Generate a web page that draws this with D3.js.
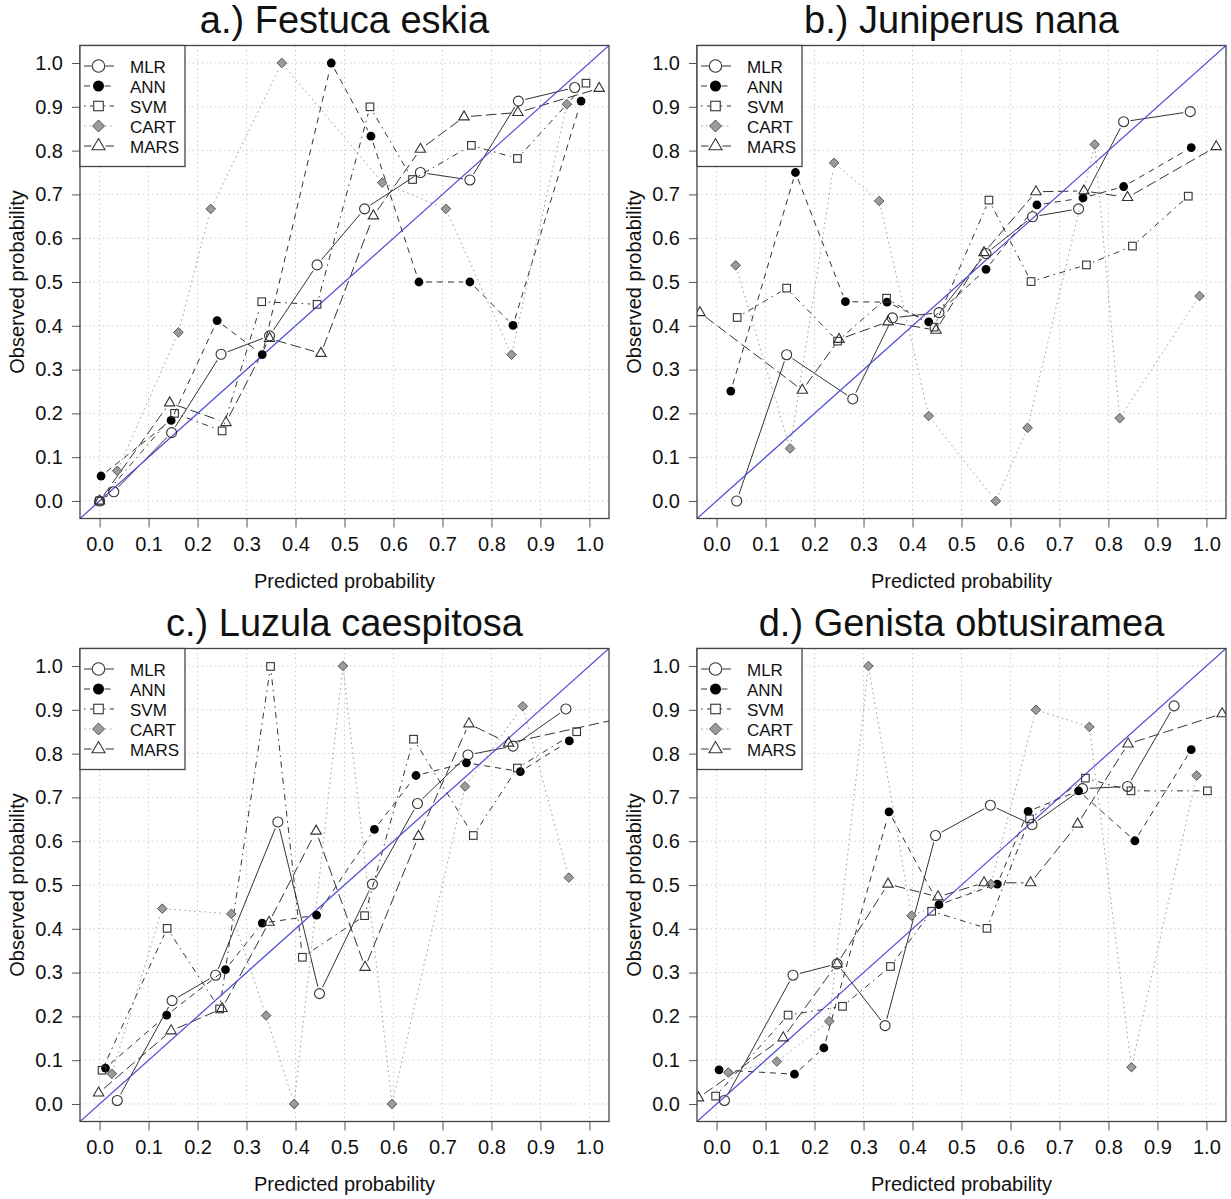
<!DOCTYPE html>
<html>
<head>
<meta charset="utf-8">
<script src="https://cdn.jsdelivr.net/npm/d3@7"></script>
<style>
  body { margin: 0; background: #fff; }
  text { font-family: "Liberation Sans", Arial, sans-serif; fill: #111; }
</style>
</head>
<body>
<svg id="chart" width="1231" height="1199"></svg>
<script>
// ---- data: [predicted, observed] per model, per species ----
const titles = ["a.) Festuca eskia", "b.) Juniperus nana", "c.) Luzula caespitosa", "d.) Genista obtusiramea"];
const models = ["MLR", "ANN", "SVM", "CART", "MARS"];
const tickValues = [0, 0.1, 0.2, 0.3, 0.4, 0.5, 0.6, 0.7, 0.8, 0.9, 1.0];

// a.) Festuca eskia
const festucaMLR  = [[0,0],[0.029,0.021],[0.147,0.156],[0.248,0.335],[0.347,0.377],[0.444,0.539],[0.541,0.667],[0.655,0.75],[0.756,0.733],[0.855,0.913],[0.97,0.944]];
const festucaANN  = [[0.003,0.057],[0.146,0.184],[0.24,0.412],[0.332,0.334],[0.473,1.0],[0.554,0.833],[0.652,0.5],[0.756,0.5],[0.844,0.401],[0.983,0.913]];
const festucaSVM  = [[0,0],[0.153,0.2],[0.25,0.16],[0.331,0.455],[0.444,0.449],[0.552,0.9],[0.639,0.734],[0.759,0.812],[0.853,0.782],[0.993,0.954]];
const festucaCART = [[0.036,0.069],[0.161,0.385],[0.227,0.667],[0.372,1.0],[0.577,0.727],[0.707,0.667],[0.841,0.334],[0.954,0.906]];
const festucaMARS = [[0,0],[0.143,0.224],[0.258,0.179],[0.347,0.371],[0.452,0.337],[0.559,0.651],[0.655,0.803],[0.744,0.877],[0.854,0.887],[1.02,0.942]];

// b.) Juniperus nana
const juniperusMLR  = [[0.041,0.0],[0.143,0.334],[0.278,0.233],[0.359,0.418],[0.454,0.43],[0.55,0.565],[0.645,0.649],[0.739,0.667],[0.831,0.866],[0.967,0.889]];
const juniperusANN  = [[0.029,0.251],[0.161,0.75],[0.263,0.455],[0.348,0.454],[0.433,0.409],[0.55,0.529],[0.654,0.676],[0.748,0.692],[0.831,0.718],[0.969,0.807]];
const juniperusSVM  = [[0.042,0.419],[0.143,0.486],[0.247,0.365],[0.347,0.463],[0.444,0.397],[0.556,0.687],[0.642,0.501],[0.755,0.539],[0.849,0.582],[0.963,0.696]];
const juniperusCART = [[0.039,0.538],[0.15,0.12],[0.24,0.772],[0.332,0.685],[0.433,0.194],[0.57,0.0],[0.635,0.167],[0.772,0.814],[0.823,0.189],[0.986,0.468]];
const juniperusMARS = [[-0.034,0.43],[0.175,0.253],[0.25,0.369],[0.35,0.409],[0.448,0.39],[0.546,0.567],[0.652,0.706],[0.75,0.708],[0.839,0.693],[1.02,0.809]];

// c.) Luzula caespitosa
const luzulaMLR  = [[0.036,0.008],[0.148,0.236],[0.237,0.294],[0.364,0.644],[0.449,0.252],[0.557,0.502],[0.649,0.686],[0.752,0.797],[0.844,0.817],[0.952,0.902]];
const luzulaANN  = [[0.012,0.082],[0.137,0.203],[0.257,0.307],[0.332,0.413],[0.443,0.431],[0.561,0.627],[0.646,0.75],[0.749,0.779],[0.859,0.759],[0.959,0.829]];
const luzulaSVM  = [[0.005,0.077],[0.138,0.401],[0.245,0.217],[0.349,0.999],[0.414,0.335],[0.541,0.43],[0.641,0.833],[0.763,0.613],[0.853,0.767],[0.974,0.85]];
const luzulaCART = [[0.025,0.069],[0.128,0.446],[0.269,0.434],[0.34,0.202],[0.397,0.0],[0.497,1.0],[0.597,0.0],[0.746,0.725],[0.864,0.908],[0.958,0.517]];
const luzulaMARS = [[-0.002,0.025],[0.146,0.167],[0.25,0.218],[0.346,0.415],[0.442,0.623],[0.542,0.312],[0.651,0.611],[0.754,0.868],[0.835,0.824],[1.07,0.882]];

// d.) Genista obtusiramea
const genistaMLR  = [[0.016,0.008],[0.156,0.294],[0.246,0.32],[0.344,0.179],[0.447,0.613],[0.559,0.682],[0.644,0.638],[0.747,0.72],[0.839,0.725],[0.934,0.909]];
const genistaANN  = [[0.005,0.078],[0.159,0.068],[0.219,0.128],[0.352,0.667],[0.454,0.455],[0.573,0.502],[0.636,0.668],[0.739,0.715],[0.854,0.601],[0.969,0.809]];
const genistaSVM  = [[-0.002,0.018],[0.146,0.203],[0.257,0.223],[0.355,0.314],[0.439,0.44],[0.552,0.401],[0.639,0.651],[0.753,0.744],[0.846,0.715],[1.002,0.715]];
const genistaCART = [[0.024,0.072],[0.123,0.097],[0.23,0.189],[0.31,1.0],[0.398,0.43],[0.56,0.502],[0.652,0.9],[0.761,0.861],[0.847,0.084],[0.98,0.75]];
const genistaMARS = [[-0.037,0.014],[0.136,0.151],[0.246,0.32],[0.35,0.502],[0.452,0.473],[0.546,0.505],[0.641,0.505],[0.737,0.639],[0.84,0.822],[1.032,0.891]];

const panelData = [
  [festucaMLR, festucaANN, festucaSVM, festucaCART, festucaMARS],
  [juniperusMLR, juniperusANN, juniperusSVM, juniperusCART, juniperusMARS],
  [luzulaMLR, luzulaANN, luzulaSVM, luzulaCART, luzulaMARS],
  [genistaMLR, genistaANN, genistaSVM, genistaCART, genistaMARS]
];

// ---- styles (R-like lty / pch) ----
const modelStyle = {
  MLR:  { dash: null,            line: "#333", shape: "circle",   half: 5 },
  ANN:  { dash: "6,5",           line: "#333", shape: "dot",      half: 4.4 },
  SVM:  { dash: "1.5,4.5,6,4.5", line: "#333", shape: "square",   half: 3.8 },
  CART: { dash: "1.5,3.5",       line: "#999", shape: "diamond",  half: 4.8 },
  MARS: { dash: "10.5,4.5",      line: "#333", shape: "triangle", half: 5.2 }
};

const svg = d3.select("#chart");
const offsets = [[0, 0], [617, 0], [0, 603], [617, 603]];
const box = { left: 80, top: 45.5, width: 529, height: 473 };

const x = d3.scaleLinear().domain([-0.04, 1.04]).range([box.left, box.left + box.width]);
const y = d3.scaleLinear().domain([-0.04, 1.04]).range([box.top + box.height, box.top]);

function drawSymbol(g, shape, px, py, k) {
  if (shape === "circle") {
    g.append("circle").attr("cx", px).attr("cy", py).attr("r", 5 * k)
      .attr("fill", "none").attr("stroke", "#333").attr("stroke-width", 1.1);
  } else if (shape === "dot") {
    g.append("circle").attr("cx", px).attr("cy", py).attr("r", 4.4 * k).attr("fill", "#000");
  } else if (shape === "square") {
    const h = 3.8 * k;
    g.append("rect").attr("x", px - h).attr("y", py - h).attr("width", 2 * h).attr("height", 2 * h)
      .attr("fill", "none").attr("stroke", "#333").attr("stroke-width", 1.1);
  } else if (shape === "diamond") {
    const h = 4.8 * k;
    g.append("path").attr("d", `M${px},${py - h}L${px + h},${py}L${px},${py + h}L${px - h},${py}Z`)
      .attr("fill", "#9b9b9b").attr("stroke", "#555").attr("stroke-width", 1);
  } else if (shape === "triangle") {
    const r = 6 * k, xc = r * 0.866, yc = r * 0.5;
    g.append("path").attr("d", `M${px},${py - r}L${px + xc},${py + yc}L${px - xc},${py + yc}Z`)
      .attr("fill", "none").attr("stroke", "#333").attr("stroke-width", 1.1);
  }
}

panelData.forEach((series, pi) => {
  const [ox, oy] = offsets[pi];
  const g = svg.append("g").attr("transform", `translate(${ox},${oy})`);

  const clipId = "clip" + pi;
  g.append("clipPath").attr("id", clipId)
    .append("rect").attr("x", box.left).attr("y", box.top).attr("width", box.width).attr("height", box.height);

  // grid (R grid(): dotted lightgray)
  const grid = g.append("g").attr("stroke", "#cfcfcf").attr("stroke-dasharray", "1.5,3").attr("stroke-width", 1);
  tickValues.forEach(t => {
    grid.append("line").attr("x1", x(t)).attr("x2", x(t)).attr("y1", box.top).attr("y2", box.top + box.height);
    grid.append("line").attr("x1", box.left).attr("x2", box.left + box.width).attr("y1", y(t)).attr("y2", y(t));
  });

  const plot = g.append("g").attr("clip-path", `url(#${clipId})`);

  // type = "b": lines with gaps round the points
  series.forEach((pts, mi) => {
    const st = modelStyle[models[mi]];
    const gap = 7;
    const sorted = pts.slice().sort((a, b) => a[0] - b[0]);
    for (let i = 0; i < sorted.length - 1; i++) {
      const x0 = x(sorted[i][0]), y0 = y(sorted[i][1]);
      const x1 = x(sorted[i + 1][0]), y1 = y(sorted[i + 1][1]);
      const len = Math.hypot(x1 - x0, y1 - y0);
      if (len <= 2 * gap) continue;
      const ux = (x1 - x0) / len, uy = (y1 - y0) / len;
      plot.append("line")
        .attr("x1", x0 + ux * gap).attr("y1", y0 + uy * gap)
        .attr("x2", x1 - ux * gap).attr("y2", y1 - uy * gap)
        .attr("stroke", st.line).attr("stroke-width", 1)
        .attr("stroke-dasharray", st.dash);
    }
  });

  // 1:1 reference line
  plot.append("line")
    .attr("x1", x(-0.04)).attr("y1", y(-0.04)).attr("x2", x(1.04)).attr("y2", y(1.04))
    .attr("stroke", "#4b4bd6").attr("stroke-width", 1.2);

  series.forEach((pts, mi) => {
    const st = modelStyle[models[mi]];
    pts.forEach(p => drawSymbol(plot, st.shape, x(p[0]), y(p[1]), 1));
  });

  // axes
  const xAxis = g.append("g").attr("transform", `translate(0,${box.top + box.height})`)
    .call(d3.axisBottom(x).tickValues(tickValues).tickFormat(d3.format(".1f")).tickSize(9).tickPadding(9));
  const yAxis = g.append("g").attr("transform", `translate(${box.left},0)`)
    .call(d3.axisLeft(y).tickValues(tickValues).tickFormat(d3.format(".1f")).tickSize(8).tickPadding(9));
  [xAxis, yAxis].forEach(a => {
    a.select(".domain").remove();
    a.selectAll("line").attr("stroke", "#555");
    a.selectAll("text").attr("font-size", 20).attr("fill", "#111")
      .style("font-family", "'Liberation Sans', Arial, sans-serif");
  });

  // box
  g.append("rect").attr("x", box.left).attr("y", box.top).attr("width", box.width).attr("height", box.height)
    .attr("fill", "none").attr("stroke", "#444").attr("stroke-width", 1.3);

  // titles
  g.append("text").attr("x", box.left + box.width / 2).attr("y", 33)
    .attr("text-anchor", "middle").attr("font-size", 38).text(titles[pi]);
  g.append("text").attr("x", box.left + box.width / 2).attr("y", 588)
    .attr("text-anchor", "middle").attr("font-size", 20).text("Predicted probability");
  g.append("text").attr("transform", `translate(24,${box.top + box.height / 2}) rotate(-90)`)
    .attr("text-anchor", "middle").attr("font-size", 20).text("Observed probability");

  // legend
  const lg = g.append("g");
  lg.append("rect").attr("x", box.left).attr("y", box.top).attr("width", 105).attr("height", 121)
    .attr("fill", "#fff").attr("stroke", "#444").attr("stroke-width", 1.3);
  models.forEach((m, i) => {
    const st = modelStyle[m];
    const ly = 66 + i * 20, sx = 98.5;
    const k = 1.25, gap = st.half * k + 0.5;
    lg.append("line").attr("x1", 84).attr("x2", sx - gap).attr("y1", ly).attr("y2", ly)
      .attr("stroke", st.line).attr("stroke-dasharray", st.dash);
    lg.append("line").attr("x1", sx + gap).attr("x2", 114).attr("y1", ly).attr("y2", ly)
      .attr("stroke", st.line).attr("stroke-dasharray", st.dash);
    drawSymbol(lg, st.shape, sx, ly, k);
    lg.append("text").attr("x", 130).attr("y", ly + 6.5).attr("font-size", 17).text(m);
  });
});
</script>
</body>
</html>
